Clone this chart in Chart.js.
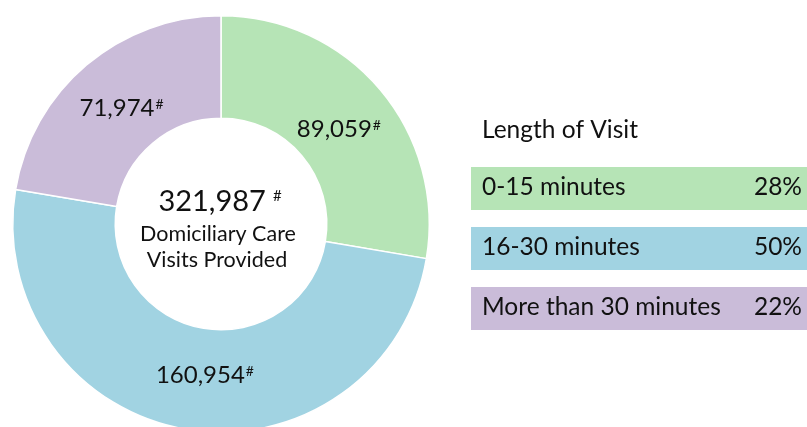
<!DOCTYPE html>
<html>
<head>
<meta charset="utf-8">
<script src="https://cdn.jsdelivr.net/npm/chart.js@4.4.1/dist/chart.umd.min.js"></script>
<style>
  html, body { margin: 0; padding: 0; background: #fff; overflow: hidden; }
</style>
</head>
<body>
<canvas id="visits" width="807" height="440"></canvas>
<script>
const labels = ['0-15 minutes', '16-30 minutes', 'More than 30 minutes'];
const visits = [89059, 160954, 71974];
const colours = ['#b6e4b6', '#a1d3e2', '#cabcd9'];
const legendTitle = 'Length of Visit';
const centreLines = ['Domiciliary Care', 'Visits Provided'];

const FONT = 'Lato, "Open Sans", sans-serif';
const total = visits.reduce((a, b) => a + b, 0);
const fmt = n => n.toLocaleString('en-GB');

// number followed by a small raised "#"
function numberWithHash(ctx, text, cx, cy, size, hashSize, gap) {
  ctx.font = size + 'px ' + FONT;
  const w = ctx.measureText(text).width;
  ctx.font = hashSize + 'px ' + FONT;
  const hw = ctx.measureText('#').width;
  const x = cx - (w + gap + hw) / 2;
  const base = cy + size * 0.36;
  ctx.textAlign = 'left';
  ctx.textBaseline = 'alphabetic';
  ctx.font = size + 'px ' + FONT;
  ctx.fillText(text, x, base);
  ctx.font = hashSize + 'px ' + FONT;
  ctx.fillText('#', x + w + gap, base - size * 0.72 + hashSize * 0.72);
}

const nudges = [[-2, 6], [10, -4], [2, 3]];

const textPlugin = {
  id: 'visitText',
  afterDraw(chart) {
    const ctx = chart.ctx;
    const meta = chart.getDatasetMeta(0);
    ctx.save();
    ctx.fillStyle = '#111';

    meta.data.forEach((arc, i) => {
      const p = arc.tooltipPosition();
      numberWithHash(ctx, fmt(visits[i]), p.x + nudges[i][0], p.y + nudges[i][1], 24, 14, 1);
    });

    const cx = meta.data[0].x;
    const cy = meta.data[0].y;
    numberWithHash(ctx, fmt(total), cx - 1, cy - 23, 29, 15, 7);
    ctx.font = '21.5px ' + FONT;
    ctx.textAlign = 'center';
    ctx.textBaseline = 'alphabetic';
    ctx.fillText(centreLines[0], cx - 3, 241);
    ctx.fillText(centreLines[1], cx - 4, 267);

    // legend on the right
    const lx = 471, top0 = 167, step = 60, boxH = 43;
    ctx.font = '24.5px ' + FONT;
    ctx.textAlign = 'left';
    ctx.fillText(legendTitle, 482, 138);
    labels.forEach((lab, i) => {
      const y = top0 + i * step;
      ctx.fillStyle = colours[i];
      ctx.fillRect(lx, y, chart.width - lx, boxH);
      ctx.fillStyle = '#111';
      ctx.textAlign = 'left';
      ctx.fillText(lab, 482, y + 28);
      ctx.textAlign = 'right';
      ctx.fillText(Math.round(visits[i] / total * 100) + '%', 802, y + 28);
    });
    ctx.restore();
  }
};

new Chart(document.getElementById('visits'), {
  type: 'doughnut',
  data: {
    labels: labels,
    datasets: [{
      data: visits,
      backgroundColor: colours,
      borderColor: '#ffffff',
      borderWidth: 1.5
    }]
  },
  options: {
    responsive: false,
    animation: false,
    cutout: '50.8%',
    layout: { padding: { top: 15, bottom: 7, left: 0, right: 365 } },
    plugins: {
      legend: { display: false },
      tooltip: { enabled: false }
    }
  },
  plugins: [textPlugin]
});
</script>
</body>
</html>
